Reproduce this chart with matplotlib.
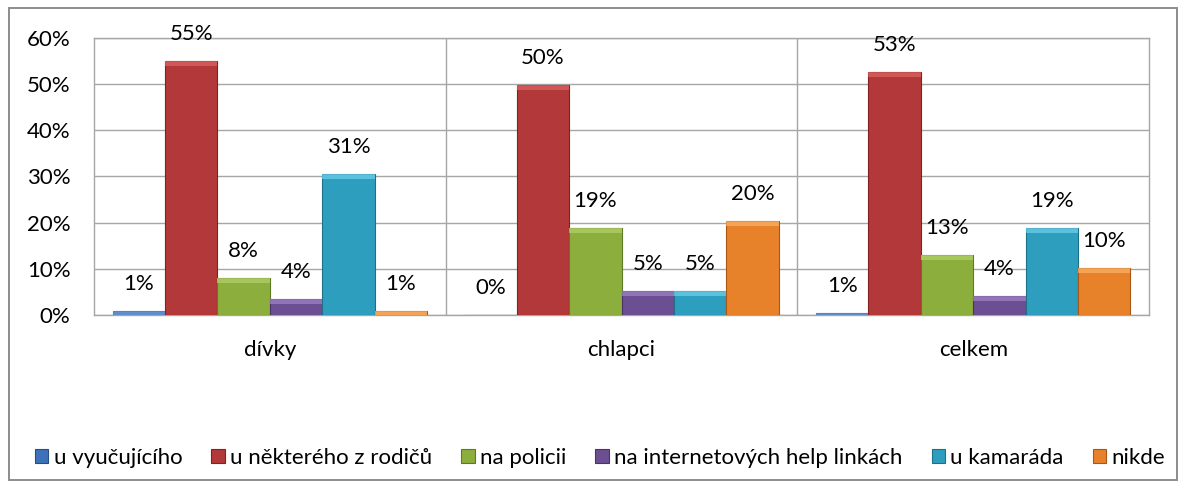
from matplotlib import pyplot as plt
from matplotlib.patches import Rectangle
import numpy as np

groups = ["dívky", "chlapci", "celkem"]
series = ["u vyučujícího", "u některého z rodičů", "na policii",
          "na internetových help linkách", "u kamaráda", "nikde"]
# bar heights (%)
vyucujici = [0.9, 0.0, 0.5]
rodice = [55.0, 49.9, 52.7]
policie = [8.1, 18.9, 13.0]
help_linky = [3.4, 5.2, 4.2]
kamarad = [30.5, 5.2, 18.9]
nikde = [0.9, 20.3, 10.1]
# data labels as printed on the chart
labels = [
    ["1%", "0%", "1%"],
    ["55%", "50%", "53%"],
    ["8%", "19%", "13%"],
    ["4%", "5%", "4%"],
    ["31%", "5%", "19%"],
    ["1%", "20%", "10%"],
]

colors = ["#3D72B8", "#B3383A", "#8BAE3C", "#6C4F92", "#2E9EBF", "#E8822A"]
edges = ["#264E85", "#7E2224", "#5F7A26", "#4A3468", "#1E6F88", "#A85716"]
tops = ["#6E9BD6", "#E06663", "#B4D36A", "#A386C9", "#6FD0EC", "#FBB266"]

plt.rcParams['font.family'] = ['Lato', 'DejaVu Sans']
fs = 16

fig = plt.figure(figsize=(11.79, 4.84), dpi=100)
# outer chart border
fig.patches.append(Rectangle((0.0076, 0.008), 0.9907, 0.9755, transform=fig.transFigure,
                             fill=False, edgecolor="#8C8C8C", linewidth=1.4))
ax = fig.add_axes([0.0797, 0.3492, 0.8949, 0.5723])

data = [vyucujici, rodice, policie, help_linky, kamarad, nikde]
x = np.arange(len(groups))
width = 0.149
bars = []
for i, vals in enumerate(data):
    offs = (i - 2.5) * width
    b = ax.bar(x + offs, vals, width, color=colors[i], edgecolor=edges[i],
               linewidth=0.8, label=series[i], zorder=3)
    bars.append(b)
    for j, rect in enumerate(b):
        h = rect.get_height()
        # light bevel strip at the top of each bar
        band = min(h, 1.1)
        if h > 0:
            ax.add_patch(Rectangle((rect.get_x(), h - band), rect.get_width(), band,
                                   facecolor=tops[i], edgecolor="none", alpha=0.7, zorder=4))
        ax.annotate(labels[i][j], (rect.get_x() + rect.get_width() / 2, h),
                    xytext=(0, 19.5), textcoords="offset points",
                    ha="center", va="center", fontsize=fs, zorder=5)

ax.set_xlim(-0.5, 2.5)
ax.set_ylim(0, 60)
ax.set_yticks(np.arange(0, 61, 10))
ax.set_yticklabels([f"{v}%" for v in range(0, 61, 10)])
ax.set_xticks(x)
ax.set_xticklabels(groups)
ax.tick_params(axis="both", length=0, labelsize=fs)
ax.tick_params(axis="x", pad=18)
ax.tick_params(axis="y", pad=17)
ax.yaxis.grid(True, color="#A6A6A6", linewidth=1.0, zorder=0)
for sep in [0.5, 1.5]:
    ax.axvline(sep, color="#A6A6A6", linewidth=1.0, zorder=0)
for s in ax.spines.values():
    s.set_color("#A6A6A6")
    s.set_linewidth(1.0)

fig.legend(handles=bars, labels=series, loc="center", bbox_to_anchor=(0.509, 0.054),
           ncol=6, frameon=False, fontsize=fs, handlelength=0.6, handleheight=0.6,
           handletextpad=0.25, columnspacing=1.3)

fig.savefig("out.png", dpi=100)
